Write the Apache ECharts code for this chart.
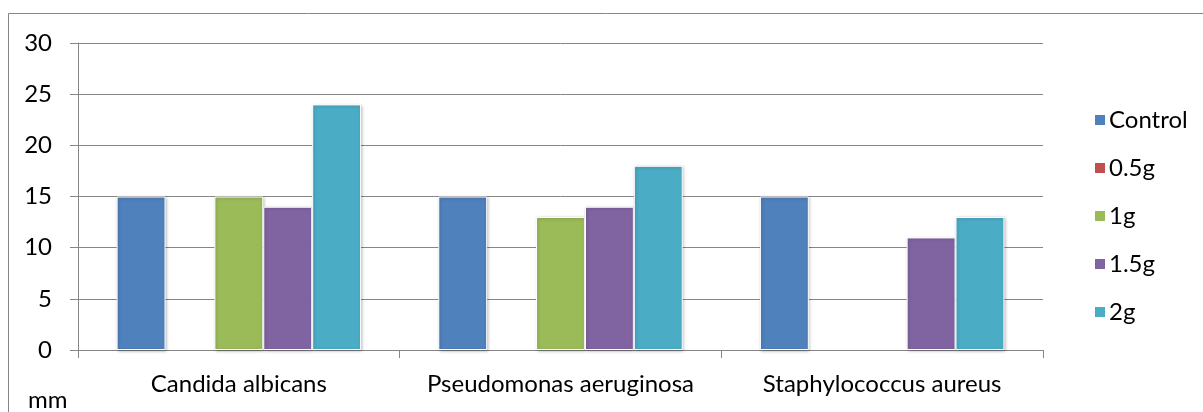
<!DOCTYPE html>
<html>
<head>
<meta charset="utf-8">
<style>
  html, body { margin: 0; padding: 0; background: #ffffff; }
  #chart { width: 1203px; height: 412px; }
</style>
<script src="https://cdn.jsdelivr.net/npm/echarts@6/dist/echarts.min.js"></script>
</head>
<body>
<div id="chart"></div>
<script>
// Inhibition zone diameters (mm) by organism and dose
const organisms = ['Candida albicans', 'Pseudomonas aeruginosa', 'Staphylococcus aureus'];
const seriesNames = ['Control', '0.5g', '1g', '1.5g', '2g'];
const control = [15, 15, 15];
const dose05 = [0, 0, 0];
const dose1 = [15, 13, 0];
const dose15 = [14, 14, 11];
const dose2 = [24, 18, 13];
const yTicks = [0, 5, 10, 15, 20, 25, 30];

const palette = ['#4F81BD', '#C0504D', '#9BBB59', '#8064A2', '#4BACC6'];
const values = [control, dose05, dose1, dose15, dose2];
const FONT = 'Lato, "Liberation Sans", sans-serif';
const FS = 24;
const GRID = '#868686';

const chart = echarts.init(document.getElementById('chart'));

const series = seriesNames.map((name, i) => ({
  name,
  type: 'bar',
  barGap: '0%',
  barCategoryGap: '24%',
  data: values[i].map(v => ({
    value: v,
    // empty bars get no outline so the axis line stays intact
    itemStyle: v === 0 ? { borderWidth: 0, opacity: 0 } : undefined
  })),
  itemStyle: {
    color: palette[i],
    borderColor: '#ffffff',
    borderWidth: 1,
    shadowColor: 'rgba(0,0,0,0.25)',
    shadowBlur: 3,
    shadowOffsetX: 1,
    shadowOffsetY: 1
  }
}));

chart.setOption({
  animation: false,
  backgroundColor: '#ffffff',
  textStyle: { fontFamily: FONT },
  grid: { left: 78, right: 160, top: 43, bottom: 62, containLabel: false },
  legend: {
    orient: 'vertical',
    left: 1088,
    top: 103,
    itemWidth: 12,
    itemHeight: 12,
    itemGap: 24,
    icon: 'rect',
    data: seriesNames,
    textStyle: { fontFamily: FONT, fontSize: FS, color: '#000000', lineHeight: 24, padding: [0, 0, 0, -2] }
  },
  xAxis: {
    type: 'category',
    data: organisms,
    axisLine: { lineStyle: { color: GRID, width: 1 } },
    axisTick: { show: true, length: 8, lineStyle: { color: GRID } },
    axisLabel: {
      interval: 0,
      hideOverlap: false,
      fontFamily: FONT,
      fontSize: FS,
      color: '#000000',
      margin: 22
    }
  },
  yAxis: {
    type: 'value',
    min: yTicks[0],
    max: yTicks[yTicks.length - 1],
    interval: yTicks[1] - yTicks[0],
    axisLine: { show: true, lineStyle: { color: GRID, width: 1 } },
    axisTick: { show: true, length: 8, lineStyle: { color: GRID } },
    splitLine: { show: true, lineStyle: { color: GRID, width: 1 } },
    axisLabel: { fontFamily: FONT, fontSize: FS, color: '#000000', margin: 26 }
  },
  graphic: [
    {
      type: 'rect',
      silent: true,
      shape: { x: 8.5, y: 13.5, width: 1400, height: 600 },
      style: { fill: 'none', stroke: GRID, lineWidth: 1 },
      z: -1
    },
    {
      type: 'text',
      left: 28,
      top: 388,
      style: { text: 'mm', fontFamily: FONT, fontSize: FS, fill: '#000000' }
    }
  ],
  series
});
</script>
</body>
</html>
